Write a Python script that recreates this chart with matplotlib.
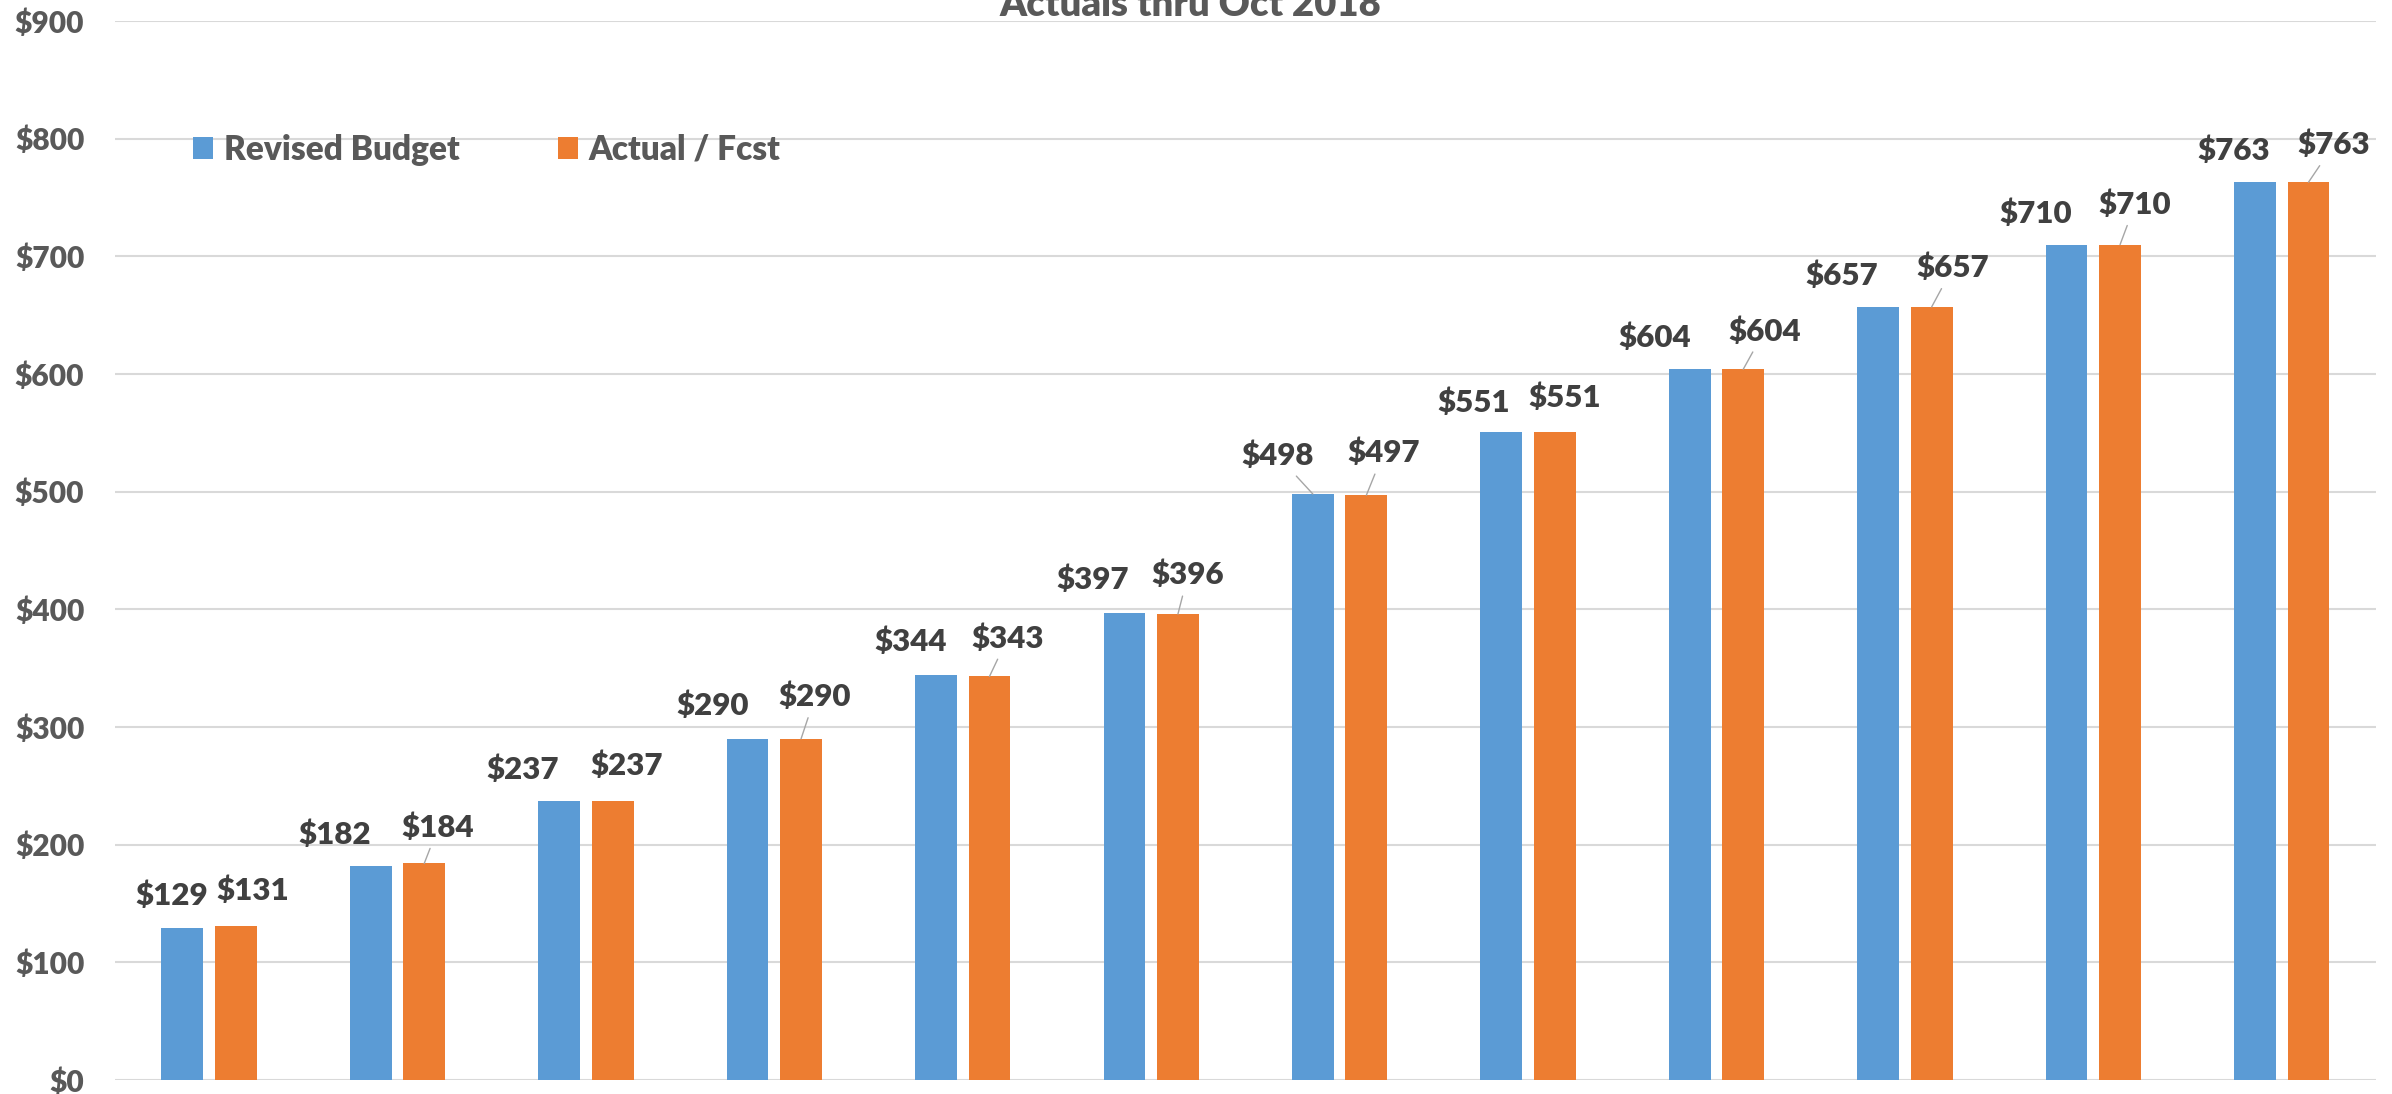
import numpy as np
import matplotlib.pyplot as plt

# Cumulative spend, $ thousands (12 periods, actuals thru Oct 2018)
budget = [129, 182, 237, 290, 344, 397, 498, 551, 604, 657, 710, 763]
actual = [131, 184, 237, 290, 343, 396, 497, 551, 604, 657, 710, 763]
series_names = ['Revised Budget', 'Actual / Fcst']
title = 'Actuals thru Oct 2018'
y_ticks = list(range(0, 901, 100))

# label placement (offsets in pixels from bar top) and leader lines
budget_off = [(-11, 32), (-36, 31), (-36, 31), (-35, 33), (-25, 33), (-32, 33),
              (-35, 38), (-28, 29), (-35, 32), (-36, 31), (-31, 31), (-21, 31)]
actual_off = [(17, 35), (14, 36), (14, 35), (14, 42), (18, 38), (10, 39),
              (17, 42), (10, 34), (21, 38), (21, 39), (15, 40), (25, 37)]
budget_leader = [False] * 6 + [True] + [False] * 5
actual_leader = [False, True, False, True, True, True, True, False, True, True, True, True]

BLUE = '#5B9BD5'
ORANGE = '#ED7D31'
LABEL = '#404040'
AXIS = '#595959'
GRID = '#D9D9D9'
FONT = 'Lato'
WEIGHT = 'heavy'

plt.rcParams['font.family'] = [FONT, 'DejaVu Sans']

dpi = 100
fig = plt.figure(figsize=(23.92, 10.94), dpi=dpi)
ax = fig.add_axes([0.048, 0.0128, 0.9453, 0.968])

x = np.arange(len(budget))
w = 0.222
off = 0.142
b1 = ax.bar(x - off, budget, w, color=BLUE, zorder=2, label=series_names[0])
b2 = ax.bar(x + off, actual, w, color=ORANGE, zorder=2, label=series_names[1])

px2pt = 72 / dpi


def add_labels(xs, vals, offsets, leaders):
    for xi, v, (dx, up), lead in zip(xs, vals, offsets, leaders):
        kw = {}
        if lead:
            kw['arrowprops'] = dict(arrowstyle='-', color='#A6A6A6', lw=1.0,
                                    shrinkA=3, shrinkB=0)
        ax.annotate(f'${v}', xy=(xi, v), xytext=(dx * px2pt, up * px2pt),
                    textcoords='offset points', ha='center', va='center',
                    fontsize=22.5, fontweight=WEIGHT, color=LABEL, **kw)


add_labels(x - off, budget, budget_off, budget_leader)
add_labels(x + off, actual, actual_off, actual_leader)

ax.set_xlim(-0.5, len(budget) - 0.5)
ax.set_ylim(0, 900)
ax.set_yticks(y_ticks)
ax.set_yticklabels([f'${t}' for t in y_ticks])
ax.set_xticks([])
ax.tick_params(axis='y', length=0, pad=22, labelsize=21.5, labelcolor=AXIS)
for lab in ax.get_yticklabels():
    lab.set_fontweight(WEIGHT)
ax.grid(axis='y', color=GRID, lw=1.5, zorder=0)
ax.set_axisbelow(True)
for s in ax.spines.values():
    s.set_visible(False)

fig.legend(handles=[b1, b2], loc='center left', bbox_to_anchor=(0.0807, 0.863),
           ncol=2, frameon=False, borderpad=0, borderaxespad=0,
           handlelength=0.6, handleheight=0.63, handletextpad=0.33,
           columnspacing=2.94, labelcolor=AXIS,
           prop={'family': FONT, 'weight': WEIGHT, 'size': 24})

fig.text(0.4976, 1 - 16 / 1094, title, ha='center', va='baseline',
         fontsize=27.5, fontweight=WEIGHT, color=AXIS)

fig.savefig('out.png', dpi=dpi)
